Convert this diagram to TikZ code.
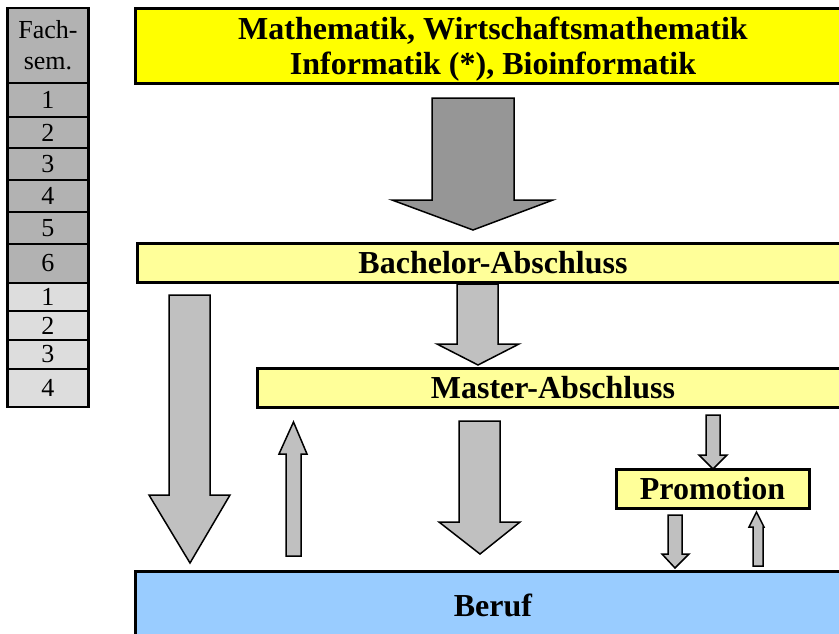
\documentclass[tikz,border=0pt]{standalone}
\usepackage{fontspec}
\setmainfont{Liberation Serif}
\definecolor{topyellow}{HTML}{FFFF00}
\definecolor{paleyellow}{HTML}{FFFF99}
\definecolor{berufblue}{HTML}{99CCFF}
\definecolor{arrowgray}{HTML}{C0C0C0}
\definecolor{darkarrow}{HTML}{969696}
\definecolor{semdark}{HTML}{B2B2B2}
\definecolor{semlight}{HTML}{DDDDDD}
\begin{document}
\begin{tikzpicture}[x=1pt,y=-1pt,
  box/.style={draw=black,line width=3pt,inner sep=0pt,align=center,
    font=\bfseries\fontsize{32}{35}\selectfont},
  boxtext/.style={inner sep=0pt,align=center,font=\bfseries\fontsize{32}{35}\selectfont},
  cell/.style={draw=black,line width=2.5pt,inner sep=0pt,minimum width=81pt,
    align=center,font=\fontsize{26}{28}\selectfont},
  blockarrow/.style={draw=black,line width=1.5pt,fill=arrowgray,line join=miter}]
\useasboundingbox (0,0) rectangle (839,633);
\clip (0,0) rectangle (839,633);

% semester column
\node[cell,fill=semdark,minimum height=75pt] (h) at (48,45.5) {Fach-\\[3pt]sem.};
\node[cell,fill=semdark,minimum height=34pt] (b1) at (48,100) {1};
\node[cell,fill=semdark,minimum height=31pt] (b2) at (48,132.5) {2};
\node[cell,fill=semdark,minimum height=32pt] (b3) at (48,164) {3};
\node[cell,fill=semdark,minimum height=32pt] (b4) at (48,196) {4};
\node[cell,fill=semdark,minimum height=32pt] (b5) at (48,228) {5};
\node[cell,fill=semdark,minimum height=39pt] (b6) at (48,263.5) {6};
\node[cell,fill=semlight,minimum height=28pt] (m1) at (48,297) {1};
\node[cell,fill=semlight,minimum height=29pt] (m2) at (48,325.5) {2};
\node[cell,fill=semlight,minimum height=29pt] (m3) at (48,354.5) {3};
\node[cell,fill=semlight,minimum height=38pt] (m4) at (48,388) {4};

% boxes
\node[box,fill=topyellow,minimum width=716pt,minimum height=75pt] (studium) at (493,45.5) {};
\node[boxtext] (studiumtext) at (493,49)
  {Mathematik, Wirtschaftsmathematik\\Informatik (*), Bioinformatik};
\node[box,fill=paleyellow,minimum width=712pt,minimum height=39pt] (bachelor) at (493,262.5)
  {Bachelor-Abschluss};
\node[box,fill=paleyellow,minimum width=592pt,minimum height=39pt] (master) at (553,387.5)
  {Master-Abschluss};
\node[box,fill=paleyellow,minimum width=193pt,minimum height=39pt] (promotion) at (712.5,488.5)
  {Promotion};
\node[box,fill=berufblue,minimum width=716pt,minimum height=69pt] (beruf) at (493,605.5)
  {Beruf};

% block arrows
\draw[blockarrow,fill=darkarrow] (432,98) -- (514,98) -- (514,200) -- (553,200) -- (473,230)
  -- (392,200) -- (432,200) -- cycle;
\draw[blockarrow] (457,284) -- (498,284) -- (498,344) -- (519,344) -- (478,365)
  -- (437,344) -- (457,344) -- cycle;
\draw[blockarrow] (169,295) -- (210,295) -- (210,495) -- (230,495) -- (190,563)
  -- (149,495) -- (169,495) -- cycle;
\draw[blockarrow] (286,556) -- (301,556) -- (301,454) -- (307,454) -- (293.5,422)
  -- (279,454) -- (286,454) -- cycle;
\draw[blockarrow] (459,421) -- (500,421) -- (500,522) -- (520,522) -- (480,554)
  -- (439,522) -- (459,522) -- cycle;
\draw[blockarrow] (706,415) -- (720,415) -- (720,455) -- (727,455) -- (713,469)
  -- (699,455) -- (706,455) -- cycle;
\draw[blockarrow] (668,515) -- (682,515) -- (682,554) -- (689,554) -- (675,568)
  -- (662,554) -- (668,554) -- cycle;
\draw[blockarrow] (753,566) -- (763,566) -- (763,527) -- (764,527) -- (756.5,512)
  -- (749,527) -- (753,527) -- cycle;
\end{tikzpicture}
\end{document}
